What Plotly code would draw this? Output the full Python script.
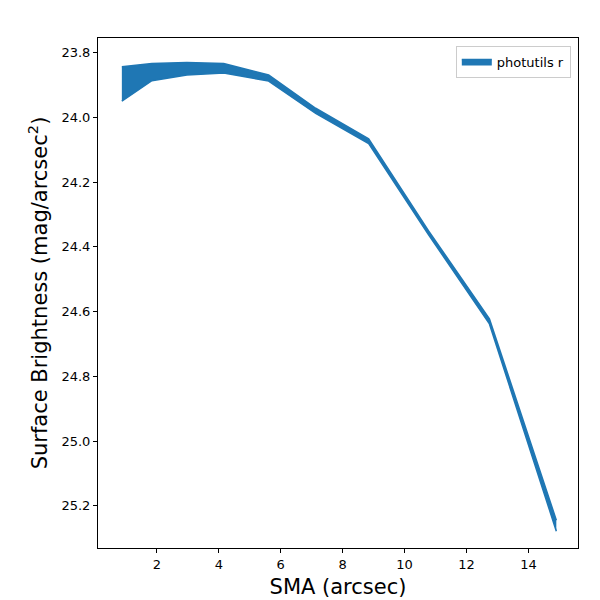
import plotly.graph_objects as go

sma = [0.87, 1.84, 2.97, 4.16, 5.61, 7.13, 8.84, 10.77, 12.74, 14.9]
sb_upper = [23.844, 23.834, 23.831, 23.834, 23.869, 23.972, 24.066, 24.350, 24.622, 25.244]
sb_lower = [23.950, 23.887, 23.869, 23.863, 23.888, 23.988, 24.081, 24.362, 24.638, 25.278]

color = "#1f77b4"
fig = go.Figure()
fig.add_trace(go.Scatter(x=sma, y=sb_lower, mode="lines", line=dict(color=color, width=1.5),
                         showlegend=False, hoverinfo="skip"))
fig.add_trace(go.Scatter(x=sma, y=sb_upper, mode="lines", line=dict(color=color, width=1.5),
                         fill="tonexty", fillcolor=color, name="photutils r"))

axis_common = dict(showline=True, linecolor="black", linewidth=1, mirror=True,
                   ticks="outside", ticklen=4, tickcolor="black", showgrid=False,
                   zeroline=False, automargin=False, tickfont=dict(size=13, color="black"))
fig.update_xaxes(title=dict(text="SMA (arcsec)", font=dict(size=21, color="black"), standoff=8),
                 range=[0.1, 15.6], tickvals=[2, 4, 6, 8, 10, 12, 14], **axis_common)
fig.update_yaxes(title=dict(text="Surface Brightness (mag/arcsec<sup>2</sup>)", font=dict(size=21, color="black"), standoff=8),
                 range=[25.33, 23.755], tickvals=[23.8, 24.0, 24.2, 24.4, 24.6, 24.8, 25.0, 25.2],
                 tickformat=".1f", **axis_common)
fig.update_layout(width=600, height=600, plot_bgcolor="white", paper_bgcolor="white",
                  font=dict(family="DejaVu Sans"),
                  margin=dict(l=90, r=30, t=30, b=60),
                  legend=dict(x=0.985, y=0.985, xanchor="right", yanchor="top",
                              bordercolor="#cccccc", borderwidth=1, font=dict(size=13, color="black")))
fig.write_html("out.html")
